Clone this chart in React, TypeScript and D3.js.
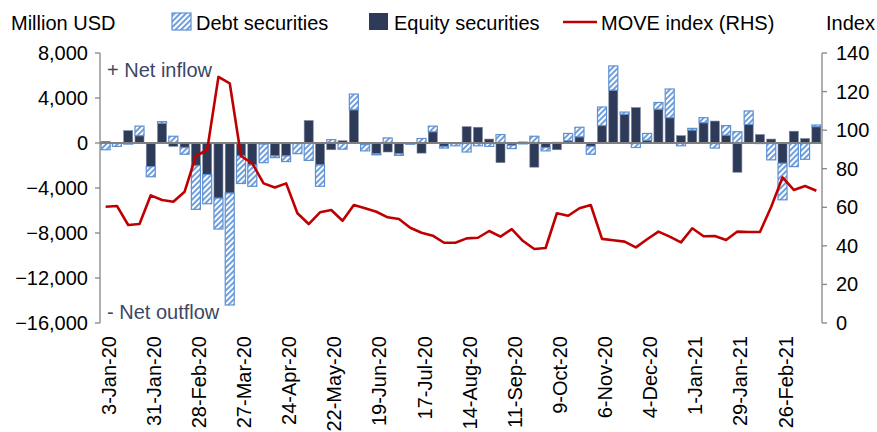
import React from 'react';
import * as d3 from 'd3';

// Weekly categories (Fridays) from 3-Jan-20 to 19-Mar-21
const startWeek = new Date(Date.UTC(2020, 0, 3));
const weeks: Date[] = d3.range(64).map((i) => d3.utcDay.offset(startWeek, i * 7));

const tickLabels = [
  '3-Jan-20', '31-Jan-20', '28-Feb-20', '27-Mar-20', '24-Apr-20', '22-May-20',
  '19-Jun-20', '17-Jul-20', '14-Aug-20', '11-Sep-20', '9-Oct-20', '6-Nov-20',
  '4-Dec-20', '1-Jan-21', '29-Jan-21', '26-Feb-21',
];

// Million USD
const equity = [
  150, -50, 1100, 650, -2100, 1750, -300, -400, -2000, -2800,
  -4900, -4450, -1150, -1950, -100, -1150, -1150, -50, 2000, -1950,
  -600, 200, 2950, -150, -950, -800, -950, -80, -900, 1000,
  -300, -50, 1450, 1400, 350, -1750, -200, 100, -2150, -400,
  -600, 200, 550, -300, 1550, 4700, 2550, 3150, 250, 3000,
  2250, 650, 1150, 1800, 1950, 700, -2600, 1650, 750, 350,
  -1800, 1050, 400, 1450,
];

const debt = [
  -600, -250, -100, 850, -900, 150, 600, -600, -3900, -2600,
  -2750, -9950, -2450, -1900, -1650, -150, -500, -900, -1550, -1900,
  300, -550, 1400, -550, -100, 450, -150, -30, 400, 500,
  -150, -200, -800, -250, -300, 750, -300, -80, 600, -300,
  50, 650, 850, -700, 1650, 2150, 200, -400, 600, 600,
  2550, -250, 150, 450, -450, 850, 1000, 1200, -50, -1500,
  -3250, -2100, -1450, 150,
];

// MOVE index (RHS)
const moveIndex = [
  60.3, 60.7, 50.8, 51.3, 66.2, 63.8, 62.9, 68.1, 86.6, 89.7,
  127.6, 124.3, 86.6, 82.8, 72.4, 70.3, 72.4, 56.9, 51.3, 57.4,
  58.6, 53.0, 61.2, 59.5, 57.7, 54.8, 53.9, 49.4, 46.8, 45.3,
  41.6, 41.6, 43.9, 44.2, 47.7, 44.8, 48.7, 42.5, 38.4, 38.9,
  56.9, 55.6, 59.5, 61.2, 43.6, 42.9, 42.2, 39.2, 43.4, 47.4,
  44.8, 41.8, 49.1, 45.0, 45.1, 43.0, 47.4, 47.2, 47.2, 60.3,
  75.5, 69.0, 71.0, 68.6,
];

const leftTicks = [8000, 4000, 0, -4000, -8000, -12000, -16000];
const rightTicks = [0, 20, 40, 60, 80, 100, 120, 140];

const FONT = '"Liberation Sans", Arial, sans-serif';
const FS = 20;
const DARK = '#2d3a58';
const BLUE = '#6f9fdc';
const RED = '#c00000';
const AXIS = '#868686';

export default function App() {
  const W = 877;
  const H = 432;
  const x0 = 100;
  const x1 = 822;
  const yTop = 53;
  const yBot = 323;

  const idx = d3.range(weeks.length);
  const x = d3.scaleBand<number>().domain(idx).range([x0, x1]).paddingInner(0.2).paddingOuter(0.1);
  const yL = d3.scaleLinear().domain([-16000, 8000]).range([yBot, yTop]);
  const yR = d3.scaleLinear().domain([0, 140]).range([yBot, yTop]);

  const rows = idx.map((i) => ({ i, equity: equity[i], debt: debt[i] }));
  const stacked = d3
    .stack<any>()
    .keys(['equity', 'debt'])
    .offset(d3.stackOffsetDiverging)(rows);

  const line = d3
    .line<number>()
    .x((_, i) => (x(i) as number) + x.bandwidth() / 2)
    .y((d) => yR(d))
    .curve(d3.curveLinear);

  const fmt = d3.format(',');

  return (
    <svg
      width={W}
      height={H}
      style={{ position: 'absolute', left: 0, top: 0, background: '#fff' }}
      fontFamily={FONT}
    >
      <defs>
        <pattern id="hatch" patternUnits="userSpaceOnUse" width="4" height="4" patternTransform="rotate(45)">
          <rect width="4" height="4" fill="#ffffff" />
          <rect x="0" y="0" width="2" height="4" fill={BLUE} />
        </pattern>
      </defs>
      <rect width={W} height={H} fill="#fff" />

      {/* Bars */}
      {stacked.map((s) => (
        <g key={s.key}>
          {s.map((d, i) => {
            const top = yL(Math.max(d[0], d[1]));
            const bot = yL(Math.min(d[0], d[1]));
            const h = bot - top;
            if (h <= 0) return null;
            return s.key === 'equity' ? (
              <rect
                key={i}
                x={x(i)}
                y={top}
                width={x.bandwidth()}
                height={h}
                fill={DARK}
                stroke="#7d879e"
                strokeWidth={0.6}
              />
            ) : (
              <rect
                key={i}
                x={x(i)}
                y={top}
                width={x.bandwidth()}
                height={h}
                fill="url(#hatch)"
                stroke="#5f90d2"
                strokeWidth={1.2}
              />
            );
          })}
        </g>
      ))}

      {/* Zero line */}
      <line x1={x0} x2={x1} y1={yL(0)} y2={yL(0)} stroke="#808080" strokeWidth={1.8} />

      {/* MOVE line */}
      <path d={line(moveIndex) || ''} fill="none" stroke={RED} strokeWidth={2.6} strokeLinejoin="round" />

      {/* Left axis */}
      <line x1={x0} x2={x0} y1={yTop} y2={yBot} stroke={AXIS} strokeWidth={1.3} />
      {leftTicks.map((t) => (
        <g key={t}>
          <line x1={x0 - 5} x2={x0} y1={yL(t)} y2={yL(t)} stroke={AXIS} strokeWidth={1.3} />
          <text x={88} y={yL(t)} dy="0.35em" textAnchor="end" fontSize={FS} fill="#000">
            {fmt(t)}
          </text>
        </g>
      ))}

      {/* Right axis */}
      <line x1={x1} x2={x1} y1={yTop} y2={yBot} stroke={AXIS} strokeWidth={1.3} />
      {rightTicks.map((t) => (
        <g key={t}>
          <line x1={x1} x2={x1 + 5} y1={yR(t)} y2={yR(t)} stroke={AXIS} strokeWidth={1.3} />
          <text x={836} y={yR(t)} dy="0.35em" textAnchor="start" fontSize={FS} fill="#000">
            {t}
          </text>
        </g>
      ))}

      {/* X labels */}
      {tickLabels.map((lab, k) => {
        const i = k * 4;
        const cx = (x(i) as number) + x.bandwidth() / 2;
        return (
          <text
            key={lab}
            transform={`translate(${cx + 3},336) rotate(-90)`}
            textAnchor="end"
            dy="0.35em"
            fontSize={FS}
            fill="#000"
          >
            {lab}
          </text>
        );
      })}

      {/* Axis titles */}
      <text x={11} y={30} fontSize={FS} fill="#000">Million USD</text>
      <text x={826} y={30} fontSize={FS} fill="#000">Index</text>

      {/* Annotations */}
      <text x={107} y={77} fontSize={FS} fill="#3b4766">+ Net inflow</text>
      <text x={107} y={319} fontSize={FS} fill="#3b4766">- Net outflow</text>

      {/* Legend */}
      <rect x={172} y={13} width={19} height={17} fill="url(#hatch)" stroke="#5f90d2" strokeWidth={1.2} />
      <text x={196} y={30} fontSize={FS} fill="#000">Debt securities</text>
      <rect x={369} y={13} width={19} height={17} fill={DARK} />
      <text x={394} y={30} fontSize={FS} fill="#000">Equity securities</text>
      <line x1={563} x2={597} y1={22} y2={22} stroke={RED} strokeWidth={2.6} />
      <text x={601} y={30} fontSize={FS} fill="#000">MOVE index (RHS)</text>
    </svg>
  );
}
